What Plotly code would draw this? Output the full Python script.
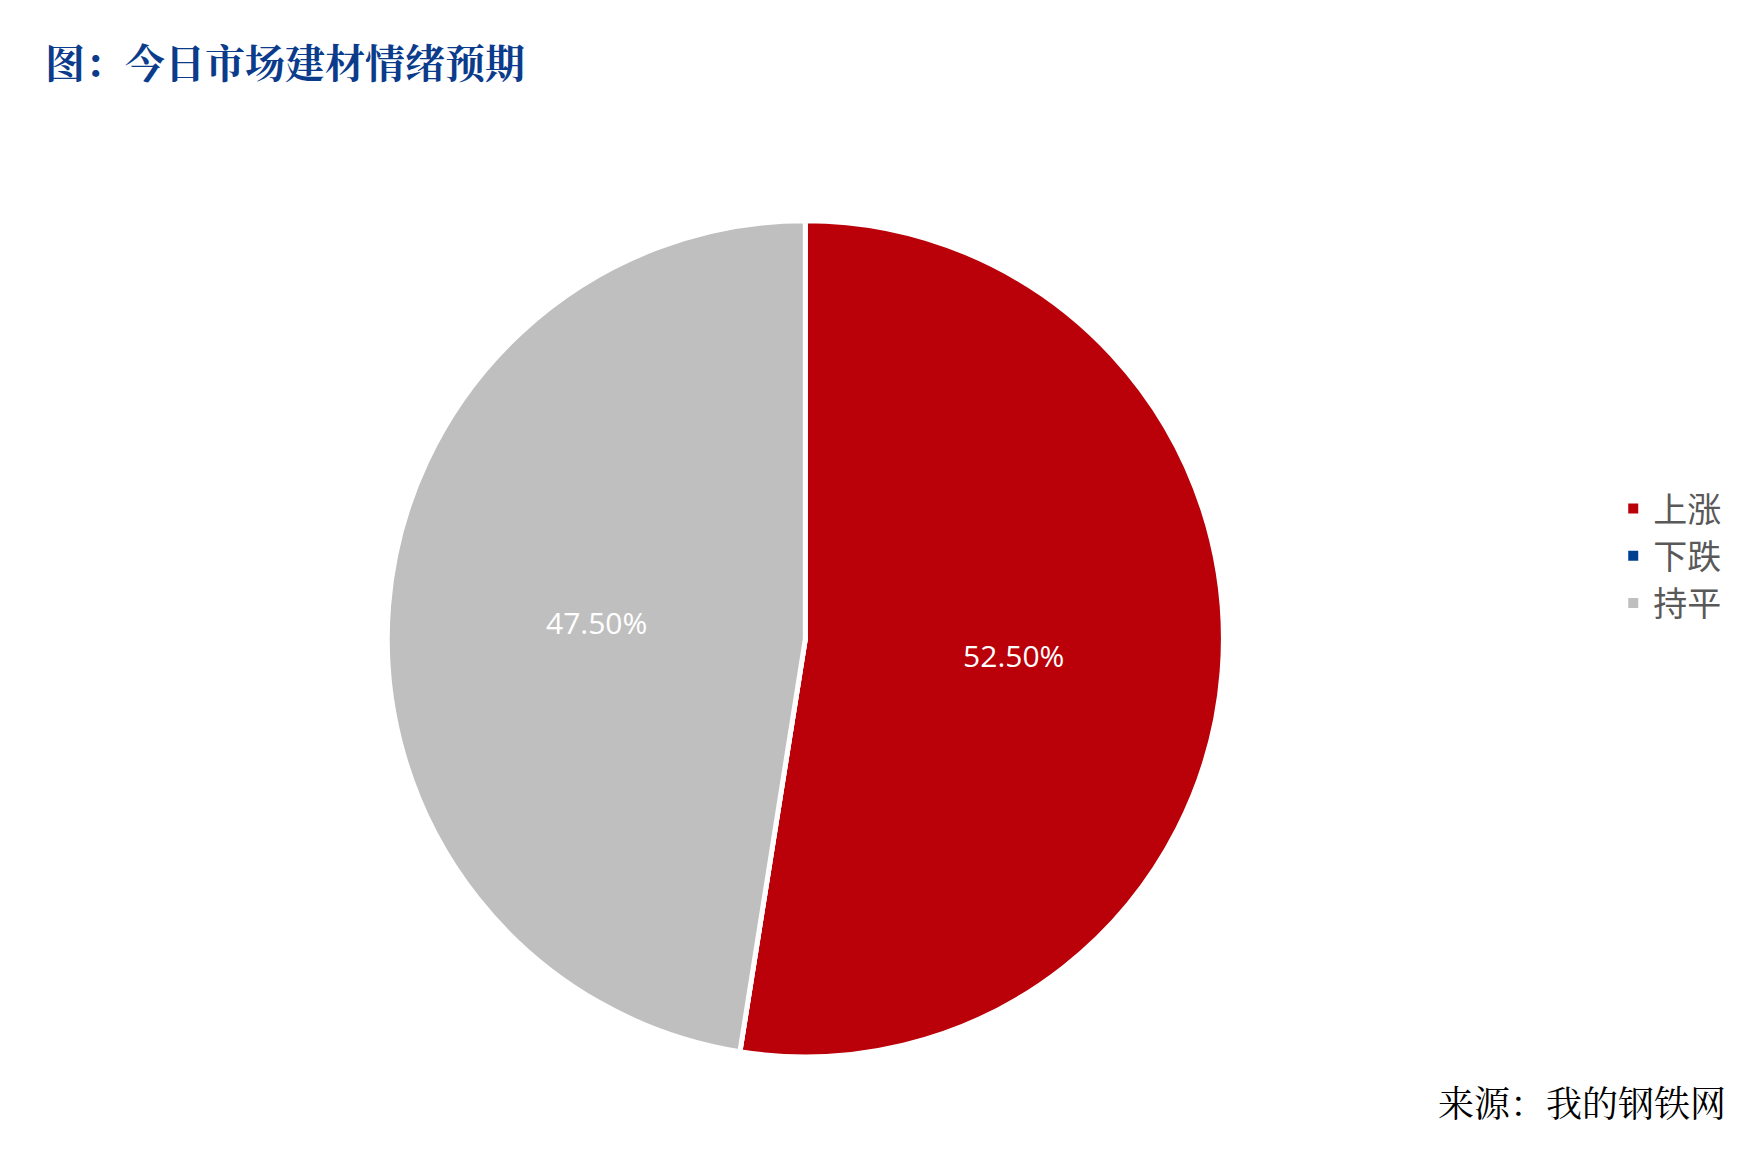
import plotly.graph_objects as go

labels = ["上涨", "下跌", "持平"]
values = [52.5, 0.0, 47.5]
colors = ["#BA0008", "#003F8F", "#BFBFBF"]

fig = go.Figure(go.Pie(
    labels=labels, values=values, sort=False, direction="clockwise", rotation=0,
    marker=dict(colors=colors, line=dict(color="white", width=5)),
    texttemplate="%{value:.2f}%", textposition="inside", insidetextorientation="horizontal",
    textfont=dict(color="white", size=30, family="Open Sans"),
    domain=dict(x=[0.215, 0.689], y=[0.1, 0.818]),
))
fig.update_layout(
    width=1764, height=1166, margin=dict(l=0, r=0, t=0, b=0),
    paper_bgcolor="white", plot_bgcolor="white",
    legend=dict(x=0.91, y=0.53, xanchor="left", yanchor="middle",
                font=dict(size=34, color="#595959", family="Noto Sans CJK SC"),
                itemsizing="constant", tracegroupgap=10),
    annotations=[
        dict(text="<b>图：今日市场建材情绪预期</b>", x=0.02, y=0.955, xref="paper", yref="paper",
             xanchor="left", yanchor="middle", showarrow=False,
             font=dict(size=40, color="#0B3C8C", family="Noto Serif CJK SC, Noto Sans CJK SC")),
        dict(text="来源：我的钢铁网", x=0.975, y=0.062, xref="paper", yref="paper",
             xanchor="right", yanchor="middle", showarrow=False,
             font=dict(size=36, color="black", family="Noto Serif CJK SC, Noto Sans CJK SC")),
    ],
)
fig.write_html("out.html")
